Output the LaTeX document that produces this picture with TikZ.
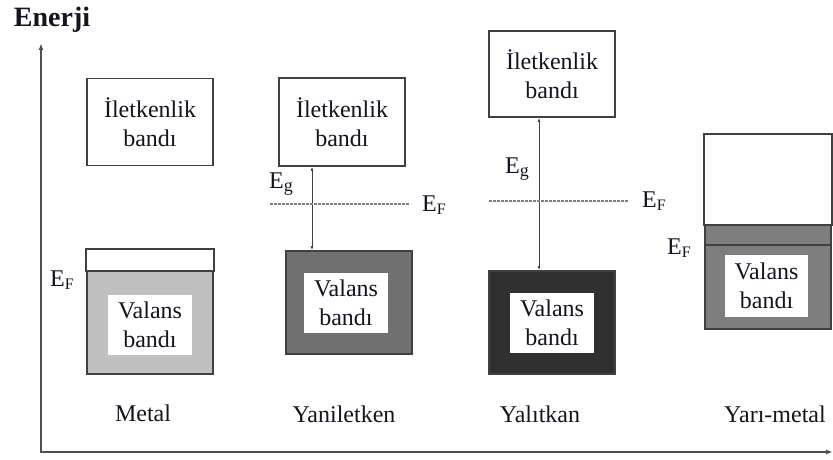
\documentclass[tikz,border=0pt]{standalone}
\usepackage{fontspec}
\setmainfont{Liberation Serif}
\usetikzlibrary{arrows.meta}
\definecolor{bordc}{HTML}{404040}
\definecolor{txtc}{HTML}{141420}
\definecolor{lgray}{HTML}{C0C0C0}
\definecolor{mgray}{HTML}{707070}
\definecolor{sgray}{HTML}{7E7E7E}
\definecolor{dgray}{HTML}{303030}
\definecolor{axisc}{HTML}{505050}
\newcommand\bandfont{\fontsize{24}{29}\selectfont}
\newcommand\EF{E\raisebox{-0.3ex}{\fontsize{16}{16}\selectfont F}}
\newcommand\Eg{E\raisebox{-0.3ex}{\fontsize{18}{18}\selectfont g}}
\begin{document}
\begin{tikzpicture}[x=1pt,y=-1pt,
  bandbox/.style={draw=bordc, line width=1.8pt, inner sep=0pt, align=center, font=\bandfont, text=txtc},
  lbl/.style={fill=white, inner sep=0pt, align=center, font=\bandfont, text=txtc},
  captxt/.style={font=\bandfont, text=txtc, inner sep=0pt},
  efl/.style={font=\bandfont, text=txtc, inner sep=0pt},
  fermi/.style={draw=gray, line width=1.3pt, dash pattern=on 3pt off 1pt},
  gap/.style={draw=bordc, line width=0.9pt, {Latex[length=4pt,width=3pt]}-{Latex[length=4pt,width=3pt]}},
  axis/.style={draw=axisc, line width=1.6pt}
]
\useasboundingbox (0,0) rectangle (833,460);

% axes
\node[font=\fontsize{28}{28}\selectfont\bfseries, text=txtc, inner sep=0pt] (enerji) at (52,20) {Enerji};
\coordinate (ytop) at (41,43);
\coordinate (orig) at (41,452);
\coordinate (xend) at (833,452);
\draw[axis, {Latex[length=7pt,width=5pt]}-{Latex[length=7pt,width=5pt]}] (ytop) -- (orig) -- (xend);

% Metal
\node[bandbox, fill=white, minimum width=126pt, minimum height=87pt] (mc) at (150,122) {İletkenlik\\bandı};
\node[bandbox, fill=lgray, minimum width=126pt, minimum height=124pt] (mv) at (150,312) {};
\draw[bordc, line width=1.8pt, fill=white] (mv.north west) rectangle ([yshift=-22pt]mv.north east);
\node[lbl, minimum width=84pt, minimum height=60pt] (mvl) at (150,325) {Valans\\bandı};
\node[efl] (mef) at (62,280) {\EF};
\node[captxt] (mcap) at (143,413) {Metal};

% Yaniletken
\node[bandbox, fill=white, minimum width=126pt, minimum height=88pt] (yc) at (342,122) {İletkenlik\\bandı};
\node[bandbox, fill=mgray, minimum width=126pt, minimum height=103pt] (yv) at (349,302.5) {};
\node[lbl, minimum width=84pt, minimum height=60pt] (yvl) at (346,303) {Valans\\bandı};
\draw[gap] ([xshift=-30pt]yc.south) -- ([xshift=-30pt]yc.south |- yv.north);
\coordinate (yf1) at (270,204);
\coordinate (yf2) at (410,204);
\draw[fermi] (yf1) -- (yf2);
\node[efl] (yef) at (434,205) {\EF};
\node[efl] (yeg) at (281,184) {\Eg};
\node[captxt] (ycap) at (344,414) {Yaniletken};

% Yalitkan
\node[bandbox, fill=white, minimum width=126pt, minimum height=86pt] (ic) at (552,74) {İletkenlik\\bandı};
\node[bandbox, fill=dgray, minimum width=126pt, minimum height=103pt] (iv) at (552,322.5) {};
\node[lbl, minimum width=84pt, minimum height=60pt] (ivl) at (552,323) {Valans\\bandı};
\draw[gap] ([xshift=-13pt]ic.south) -- ([xshift=-13pt]ic.south |- iv.north);
\coordinate (if1) at (489,201);
\coordinate (if2) at (628,201);
\draw[fermi] (if1) -- (if2);
\node[efl] (ief) at (654,201) {\EF};
\node[efl] (ieg) at (517,169) {\Eg};
\node[captxt] (icap) at (540,414) {Yalıtkan};

% Yari-metal
\node[bandbox, fill=sgray, minimum width=126pt, minimum height=194pt] (sv) at (768,232) {};
\draw[bordc, line width=1.8pt, fill=white] (sv.north west) rectangle ([yshift=-91pt]sv.north east);
\draw[bordc, line width=1.8pt] ([yshift=-111pt]sv.north west) -- ([yshift=-111pt]sv.north east);
\node[lbl, minimum width=83pt, minimum height=62pt] (svl) at (766.5,286) {Valans\\bandı};
\node[efl] (sef) at (679,248) {\EF};
\node[captxt] (scap) at (775,414) {Yarı-metal};
\end{tikzpicture}
\end{document}
